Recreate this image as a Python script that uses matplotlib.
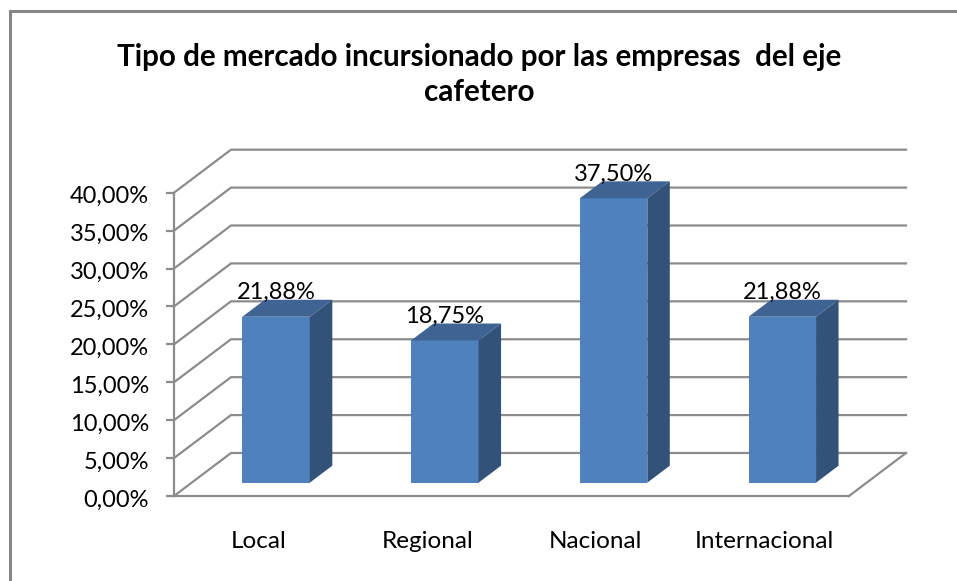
import matplotlib
matplotlib.use('Agg')
from matplotlib import pyplot as plt
from matplotlib.lines import Line2D
from matplotlib.patches import Polygon
from matplotlib.transforms import ScaledTranslation

plt.rcParams['font.family'] = ['Lato', 'DejaVu Sans']

categories = ['Local', 'Regional', 'Nacional', 'Internacional']
values = [21.88, 18.75, 37.50, 21.88]
value_labels = ['21,88%', '18,75%', '37,50%', '21,88%']
y_ticks = [0, 5, 10, 15, 20, 25, 30, 35, 40]
y_tick_labels = ['0,00%', '5,00%', '10,00%', '15,00%', '20,00%', '25,00%', '30,00%', '35,00%', '40,00%']

W, H = 957, 581
GRID = '#8c8c8c'
FRONT = '#4f81bd'
TOP = '#3f6493'
SIDE = '#325279'

fig = plt.figure(figsize=(W / 100, H / 100), dpi=100)
fig.patch.set_facecolor('white')

# frame is cut off by the picture: only the top and left edges show
fig.add_artist(Line2D([9.5 / W, 9.5 / W, 1], [0, 1 - 11 / H, 1 - 11 / H], transform=fig.transFigure,
                      color='#868686', linewidth=2.2, solid_joinstyle='miter'))

ax = fig.add_axes([174 / W, 1 - 496 / H, 675 / W, 303.3 / H])
ax.set_xlim(-0.5, 3.5)
ax.set_ylim(0, 40)
ax.patch.set_visible(False)

# depth of the fake 3d box, in data units
dx = 57 / 168.75
dy = 43 / 7.58


def depth(x, y, d):
    return (x + dx * d, y + dy * d)


# walls
for t in y_ticks:
    ax.plot([-0.5, -0.5 + dx, 3.5 + dx], [t, t + dy, t + dy], color=GRID, lw=1.6, clip_on=False,
            solid_joinstyle='miter', zorder=1)
ax.plot([3.5, 3.5 + dx], [0, dy], color=GRID, lw=1.6, clip_on=False, zorder=1)

# bars
bar_w = 0.4
d0, d1 = 0.31, 0.705
for i, v in enumerate(values):
    l = i - bar_w / 2
    r = i + bar_w / 2
    z = 3 + i
    ax.add_patch(Polygon([depth(l, 0, d0), depth(r, 0, d0), depth(r, v, d0), depth(l, v, d0)],
                         facecolor=FRONT, edgecolor='none', clip_on=False, zorder=z))
    ax.add_patch(Polygon([depth(l, v, d0), depth(r, v, d0), depth(r, v, d1), depth(l, v, d1)],
                         facecolor=TOP, edgecolor='none', clip_on=False, zorder=z))
    ax.add_patch(Polygon([depth(r, 0, d0), depth(r, 0, d1), depth(r, v, d1), depth(r, v, d0)],
                         facecolor=SIDE, edgecolor='none', clip_on=False, zorder=z))
    x_t, y_t = depth(i, v, d0)
    ax.text(x_t, y_t + 2.3, value_labels[i], ha='center', va='baseline', fontsize=17, color='black', zorder=10)

ax.set_xticks(range(4))
ax.set_xticklabels(categories, fontsize=17.5)
ax.set_yticks(y_ticks)
ax.set_yticklabels(y_tick_labels, fontsize=17)
ax.tick_params(axis='x', length=0, pad=25.5)
ax.tick_params(axis='y', length=6, width=1.6, color=GRID, pad=12)
# labels sit a little below their ticks
shift = ScaledTranslation(0, -2 / 100, fig.dpi_scale_trans)
for lab in ax.get_yticklabels():
    lab.set_transform(lab.get_transform() + shift)
for s in ['top', 'right']:
    ax.spines[s].set_visible(False)
for s in ['left', 'bottom']:
    ax.spines[s].set_color(GRID)
    ax.spines[s].set_linewidth(1.6)

fig.text(479.5 / W, 1 - 57 / H, 'Tipo de mercado incursionado por las empresas  del eje', ha='center', va='center',
         fontsize=21.3, fontweight='bold')
fig.text(479.5 / W, 1 - 92 / H, 'cafetero', ha='center', va='center', fontsize=21.3, fontweight='bold')

fig.savefig('out.png', dpi=100)
